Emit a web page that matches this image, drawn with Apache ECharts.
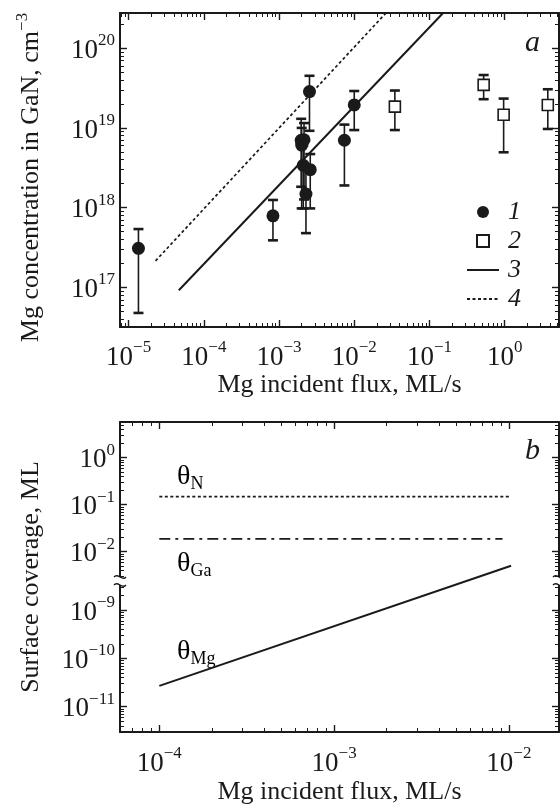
<!DOCTYPE html>
<html><head><meta charset="utf-8">
<script src="https://cdn.jsdelivr.net/npm/echarts@6/dist/echarts.min.js"></script>
<style>html,body{margin:0;padding:0;background:#fff}#c{width:560px;height:806px}</style>
</head><body><div id="c"></div>
<script>
const FONT = 'Liberation Serif';
const INK = '#1a1a1a';
const lg = Math.log10;

// ---------- Panel a data ----------
const s1Flux = [1.35e-5, 8.3e-4, 1.97e-3, 2.15e-3, 2.0e-3, 2.1e-3, 2.28e-3, 2.6e-3, 2.54e-3, 7.4e-3, 1.0e-2];
const s1Conc = [3.1e17, 7.9e17, 7.0e18, 7.1e18, 6.1e18, 3.4e18, 1.48e18, 3.0e18, 2.85e19, 7.0e18, 1.94e19];
const s1Low  = [4.8e16, 3.9e17, 1.83e18, 1.27e18, 9.8e17, 9.8e17, 4.8e17, 9.8e17, 9.2e18, 1.9e18, 9.4e18];
const s1High = [5.4e17, 1.25e18, 1.3e19, 1.15e19, 1.0e19, 6.0e18, 3.4e18, 4.7e18, 4.5e19, 1.1e19, 2.9e19];
const s2Flux = [3.47e-2, 0.526, 0.97, 3.75];
const s2Conc = [1.85e19, 3.46e19, 1.46e19, 1.94e19];
const s2Low  = [9.4e18, 2.29e19, 4.95e18, 9.7e18];
const s2High = [2.94e19, 4.6e19, 2.33e19, 3.05e19];
const line3Flux = [4.65e-5, 0.152];
const line3Conc = [9.25e16, 2.75e20];
const line4Flux = [2.28e-5, 2.64e-2];
const line4Conc = [2.16e17, 2.75e20];
const aXTicks = [-5, -4, -3, -2, -1, 0];
const aYTicks = [17, 18, 19, 20];
const aXRange = [-5.115, 0.723];
const aYRange = [16.505, 20.44];

// ---------- Panel b data ----------
const bFluxN = [1e-4, 1.03e-2];
const thetaN = [0.149, 0.149];
const bFluxGa = [1e-4, 9.2e-3];
const thetaGa = [0.0188, 0.0188];
const bFluxMg = [1e-4, 1.03e-2];
const thetaMg = [2.7e-11, 8.3e-9];
const bXTicks = [-4, -3, -2];
const bYTicksUpper = [0, -1, -2];
const bYTicksLower = [-9, -10, -11];
const bXRange = [-4.225, -1.713];
const bYRangeUpper = [-5.832, 0.758];
const bYRangeLower = [-11.523, -5.103];
const breakUpper = -2.55, breakLower = -8.48;

function minorTicks(lo, hi) {
  const out = [];
  for (let n = Math.floor(lo); n <= Math.ceil(hi); n++)
    for (let k = 2; k <= 9; k++) { const v = n + Math.log10(k); if (v > lo && v < hi) out.push(Math.round(v * 1e6) / 1e6); }
  return out;
}
function powLabel(v) { const n = Math.round(v); return '{b|10}{s|' + (n < 0 ? '\u2212' + (-n) : String(n)) + '}'; }
const RICH = {
  b: { fontSize: 27, fontFamily: FONT, color: INK, lineHeight: 32, verticalAlign: 'bottom' },
  s: { fontSize: 17, fontFamily: FONT, color: INK, lineHeight: 17, verticalAlign: 'top' }
};
function axis(o) {
  const a = {
    type: 'value', gridIndex: o.grid, position: o.pos, min: o.range[0], max: o.range[1],
    axisLine: { show: !!o.line, onZero: false, lineStyle: { color: INK, width: 2 } },
    axisTick: { show: true, inside: true, length: o.minor ? 4 : 7, customValues: o.ticks,
      lineStyle: { color: INK, width: o.minor ? 1 : 1.4 } },
    axisLabel: o.labels ? { show: true, customValues: o.ticks, formatter: powLabel, rich: RICH, margin: o.margin } : { show: false },
    splitLine: { show: false }
  };
  if (o.name) {
    a.name = o.name; a.nameLocation = 'middle'; a.nameGap = o.nameGap;
    if (o.nameRotate != null) a.nameRotate = o.nameRotate;
    a.nameTextStyle = o.nameStyle;
  }
  return a;
}
const titleStyle = { fontFamily: FONT, fontSize: 26, color: INK };
const yTitleA = { fontFamily: FONT, fontSize: 26, color: INK, padding: [0, 15, 0, 0],
  rich: { n: { fontFamily: FONT, fontSize: 26, color: INK, lineHeight: 30, verticalAlign: 'bottom' },
          sup: { fontFamily: FONT, fontSize: 17, color: INK, lineHeight: 17, verticalAlign: 'top' } } };

const xAxes = [
  axis({ grid: 0, pos: 'bottom', range: aXRange, ticks: aXTicks, line: true, labels: true, margin: 12,
         name: 'Mg incident flux, ML/s', nameGap: 43, nameStyle: titleStyle }),
  axis({ grid: 0, pos: 'bottom', range: aXRange, ticks: minorTicks(aXRange[0], aXRange[1]), minor: true }),
  axis({ grid: 0, pos: 'top', range: aXRange, ticks: aXTicks, line: true }),
  axis({ grid: 0, pos: 'top', range: aXRange, ticks: minorTicks(aXRange[0], aXRange[1]), minor: true }),
  axis({ grid: 1, pos: 'bottom', range: bXRange, ticks: bXTicks, line: true, labels: true, margin: 13,
         name: 'Mg incident flux, ML/s', nameGap: 47, nameStyle: titleStyle }),
  axis({ grid: 1, pos: 'bottom', range: bXRange, ticks: minorTicks(bXRange[0], bXRange[1]), minor: true }),
  axis({ grid: 1, pos: 'top', range: bXRange, ticks: bXTicks, line: true }),
  axis({ grid: 1, pos: 'top', range: bXRange, ticks: minorTicks(bXRange[0], bXRange[1]), minor: true })
];
const yAxes = [
  axis({ grid: 0, pos: 'left', range: aYRange, ticks: aYTicks, line: true, labels: true, margin: 5,
         name: '{n|Mg concentration in GaN, cm}{sup|\u22123}', nameGap: 76, nameRotate: 90, nameStyle: yTitleA }),
  axis({ grid: 0, pos: 'left', range: aYRange, ticks: minorTicks(aYRange[0], aYRange[1]), minor: true }),
  axis({ grid: 0, pos: 'right', range: aYRange, ticks: aYTicks, line: true }),
  axis({ grid: 0, pos: 'right', range: aYRange, ticks: minorTicks(aYRange[0], aYRange[1]), minor: true }),
  axis({ grid: 1, pos: 'left', range: bYRangeUpper, ticks: bYTicksUpper, line: true, labels: true, margin: 5,
         name: 'Surface coverage, ML', nameGap: 76, nameRotate: 90, nameStyle: titleStyle }),
  axis({ grid: 1, pos: 'left', range: bYRangeUpper, ticks: minorTicks(breakUpper, bYRangeUpper[1]), minor: true }),
  axis({ grid: 1, pos: 'left', range: bYRangeLower, ticks: bYTicksLower, labels: true, margin: 5 }),
  axis({ grid: 1, pos: 'left', range: bYRangeLower, ticks: minorTicks(bYRangeLower[0], breakLower), minor: true }),
  axis({ grid: 1, pos: 'right', range: bYRangeUpper, ticks: bYTicksUpper, line: true }),
  axis({ grid: 1, pos: 'right', range: bYRangeUpper, ticks: minorTicks(breakUpper, bYRangeUpper[1]), minor: true }),
  axis({ grid: 1, pos: 'right', range: bYRangeLower, ticks: bYTicksLower }),
  axis({ grid: 1, pos: 'right', range: bYRangeLower, ticks: minorTicks(bYRangeLower[0], breakLower), minor: true })
];

function errRender(params, api) {
  const x = api.value(0), lo = api.value(1), hi = api.value(2);
  const p1 = api.coord([x, lo]), p2 = api.coord([x, hi]);
  const w = 5;
  const st = { stroke: INK, lineWidth: 1.6 };
  const cs = { stroke: INK, lineWidth: 2.6 };
  return { type: 'group', children: [
    { type: 'line', shape: { x1: p1[0], y1: p1[1], x2: p2[0], y2: p2[1] }, style: st },
    { type: 'line', shape: { x1: p1[0] - w, y1: p1[1], x2: p1[0] + w, y2: p1[1] }, style: cs },
    { type: 'line', shape: { x1: p2[0] - w, y1: p2[1], x2: p2[0] + w, y2: p2[1] }, style: cs }
  ] };
}
const pts = (xs, ys) => xs.map((f, i) => [lg(f), lg(ys[i])]);

const series = [
  { type: 'custom', name: 'e1', xAxisIndex: 0, yAxisIndex: 0, renderItem: errRender, silent: true, z: 2,
    encode: { x: 0, y: [1, 2] }, data: s1Flux.map((f, i) => [lg(f), lg(s1Low[i]), lg(s1High[i])]) },
  { type: 'custom', name: 'e2', xAxisIndex: 0, yAxisIndex: 0, renderItem: errRender, silent: true, z: 2,
    encode: { x: 0, y: [1, 2] }, data: s2Flux.map((f, i) => [lg(f), lg(s2Low[i]), lg(s2High[i])]) },
  { type: 'scatter', name: '1', xAxisIndex: 0, yAxisIndex: 0, symbol: 'circle', symbolSize: 13, z: 4,
    itemStyle: { color: INK, opacity: 1 }, data: pts(s1Flux, s1Conc) },
  { type: 'scatter', name: '2', xAxisIndex: 0, yAxisIndex: 0, symbol: 'rect', symbolSize: 11, z: 4,
    itemStyle: { color: '#fff', borderColor: INK, borderWidth: 1.6, opacity: 1 }, data: pts(s2Flux, s2Conc) },
  { type: 'line', name: '3', xAxisIndex: 0, yAxisIndex: 0, symbol: 'none', showSymbol: false, z: 3,
    lineStyle: { color: INK, width: 2 }, itemStyle: { color: INK }, data: pts(line3Flux, line3Conc) },
  { type: 'line', name: '4', xAxisIndex: 0, yAxisIndex: 0, symbol: 'none', showSymbol: false, z: 3,
    lineStyle: { color: INK, width: 1.7, type: [3, 2.5] }, itemStyle: { color: INK }, data: pts(line4Flux, line4Conc) },
  { type: 'line', name: 'thetaN', xAxisIndex: 4, yAxisIndex: 4, symbol: 'none', showSymbol: false,
    lineStyle: { color: INK, width: 1.8, type: [3, 2.5] }, data: pts(bFluxN, thetaN) },
  { type: 'line', name: 'thetaGa', xAxisIndex: 4, yAxisIndex: 4, symbol: 'none', showSymbol: false,
    lineStyle: { color: INK, width: 1.8, type: [11, 5, 3, 5] }, data: pts(bFluxGa, thetaGa) },
  { type: 'line', name: 'thetaMg', xAxisIndex: 4, yAxisIndex: 6, symbol: 'none', showSymbol: false,
    lineStyle: { color: INK, width: 2 }, data: pts(bFluxMg, thetaMg) }
];

const thetaRich = {
  t: { fontFamily: FONT, fontSize: 28, color: INK, lineHeight: 30, verticalAlign: 'top' },
  s: { fontFamily: FONT, fontSize: 18, color: INK, lineHeight: 18, verticalAlign: 'bottom' }
};
function breakMark(x, y) {
  const c = (yy) => ({ type: 'bezierCurve', z: 101,
    shape: { x1: x - 6, y1: yy, cpx1: x - 2, cpy1: yy - 5, cpx2: x + 2, cpy2: yy + 5, x2: x + 6, y2: yy },
    style: { stroke: INK, lineWidth: 1.3, fill: null } });
  return [
    { type: 'rect', z: 100, shape: { x: x - 3, y: y - 4, width: 6, height: 8 }, style: { fill: '#fff' } },
    c(y - 4), c(y + 4)
  ];
}
const hideSym = { color: 'rgba(0,0,0,0)', borderWidth: 0, opacity: 0 };

const option = {
  animation: false,
  backgroundColor: '#fff',
  grid: [
    { left: 120, top: 13, width: 439, height: 314 },
    { left: 120, top: 422, width: 439, height: 313 }
  ],
  xAxis: xAxes,
  yAxis: yAxes,
  legend: {
    data: [
      { name: '1' },
      { name: '2', icon: 'path://M0,0L10,0L10,10L0,10Z' },
      { name: '3', itemStyle: hideSym },
      { name: '4', itemStyle: hideSym }
    ],
    orient: 'vertical', left: 461, top: 194,
    itemWidth: 32, itemHeight: 12, itemGap: 3, selectedMode: false,
    textStyle: { fontFamily: FONT, fontStyle: 'italic', fontSize: 26, color: INK, padding: [0, 0, 0, 4] }
  },
  graphic: [
    { type: 'text', left: 525, top: 28, style: { text: 'a', font: 'italic 30px "Liberation Serif"', fill: INK } },
    { type: 'text', left: 525, top: 436, style: { text: 'b', font: 'italic 30px "Liberation Serif"', fill: INK } },
    { type: 'text', left: 177, top: 463, style: { text: '{t|\u03b8}{s|N}', rich: thetaRich } },
    { type: 'text', left: 177, top: 550, style: { text: '{t|\u03b8}{s|Ga}', rich: thetaRich } },
    { type: 'text', left: 177, top: 638, style: { text: '{t|\u03b8}{s|Mg}', rich: thetaRich } }
  ].concat(breakMark(120, 581), breakMark(559, 581)),
  series: series
};
const chart = echarts.init(document.getElementById('c'), null, { renderer: 'canvas' });
chart.setOption(option);
</script>
</body></html>
